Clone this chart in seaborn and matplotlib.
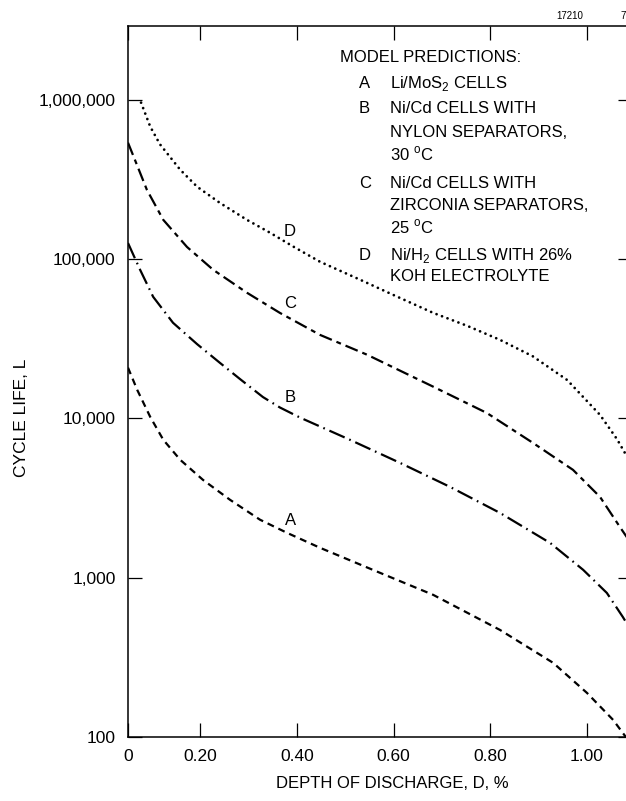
import numpy as np
import pandas as pd
import matplotlib
matplotlib.use("Agg")
import matplotlib.pyplot as plt
import seaborn as sns

# ==============================
# DATA
# ==============================

# drawn origin of the depth axis sits slightly right of D = 0
X_LEFT = 0.051
X_RIGHT = 1.093

# curve D: Ni/H2 cells
depth_d = [0.078, 0.097, 0.117, 0.159, 0.194, 0.241, 0.297, 0.345, 0.392, 0.448,
           0.531, 0.599, 0.682, 0.752, 0.820, 0.888, 0.959, 1.027, 1.062, 1.083]
life_d = [958000, 677000, 525000, 363000, 284000, 225000, 176000, 146000, 120000, 96100,
          74100, 59600, 45900, 38100, 31100, 24500, 17400, 10500, 7400, 5730]

# curve C: Ni/Cd, zirconia separators
depth_c = [0.051, 0.062, 0.090, 0.124, 0.173, 0.227, 0.297, 0.365, 0.448, 0.545,
           0.682, 0.793, 0.888, 0.971, 1.027, 1.068, 1.093]
life_c = [537000, 444000, 272000, 176000, 119000, 85600, 61400, 45900, 33400, 25100,
          15800, 10800, 7020, 4750, 3210, 2080, 1610]

# curve B: Ni/Cd, nylon separators
depth_b = [0.051, 0.076, 0.103, 0.144, 0.194, 0.241, 0.283, 0.330, 0.365, 0.407,
           0.510, 0.613, 0.717, 0.820, 0.924, 0.992, 1.041, 1.074, 1.093]
life_b = [126000, 85600, 57900, 39800, 29200, 22300, 17600, 13600, 11700, 10100,
          7330, 5260, 3710, 2550, 1650, 1120, 802, 567, 456]

# curve A: Li/MoS2
depth_a = [0.051, 0.070, 0.097, 0.124, 0.159, 0.206, 0.262, 0.324, 0.380, 0.448,
           0.551, 0.682, 0.820, 0.930, 1.000, 1.054, 1.074, 1.093]
life_a = [20800, 15100, 10200, 7330, 5490, 4110, 3080, 2310, 1910, 1540,
          1140, 780, 470, 292, 189, 128, 106, 89]

x_ticks = [X_LEFT, 0.2, 0.4, 0.6, 0.8, 1.0]
x_tick_labels = ["0", "0.20", "0.40", "0.60", "0.80", "1.00"]
y_ticks = [100, 1000, 10000, 100000, 1000000]
y_tick_labels = ["100", "1,000", "10,000", "100,000", "1,000,000"]

curve_names = ["A", "B", "C", "D"]
label_depth = 0.386
label_life = [2270, 13500, 52400, 148000]

legend_title = "MODEL PREDICTIONS:"
legend_keys = ["A", "B", "", "", "C", "", "", "D", ""]
legend_lines = [
    r"Li/MoS$_{\mathregular{2}}$ CELLS",
    "Ni/Cd CELLS WITH",
    "NYLON SEPARATORS,",
    r"30 $^{\mathregular{o}}$C",
    "Ni/Cd CELLS WITH",
    "ZIRCONIA SEPARATORS,",
    r"25 $^{\mathregular{o}}$C",
    r"Ni/H$_{\mathregular{2}}$ CELLS WITH 26%",
    "KOH ELECTROLYTE",
]

# ==============================
# STYLE
# ==============================

W, H = 626, 801
sns.set_theme(style="ticks")
plt.rcParams["font.family"] = ["Liberation Sans", "DejaVu Sans"]
plt.rcParams["text.color"] = "black"
plt.rcParams["axes.labelcolor"] = "black"
plt.rcParams["xtick.color"] = "black"
plt.rcParams["ytick.color"] = "black"
plt.rcParams["lines.scale_dashes"] = False

fig = plt.figure(figsize=(W / 100, H / 100), dpi=100)
fig.patch.set_facecolor("white")
ax = fig.add_axes([128 / W, 64 / H, 504 / W, 711 / H])

LW = 1.6
sns.lineplot(x=depth_a, y=life_a, ax=ax, color="black", linewidth=LW,
             linestyle=(0, (5, 3.6)), errorbar=None)
sns.lineplot(x=depth_b, y=life_b, ax=ax, color="black", linewidth=LW,
             linestyle=(0, (12, 3.6, 1.2, 3.6)), errorbar=None)
sns.lineplot(x=depth_c, y=life_c, ax=ax, color="black", linewidth=LW,
             linestyle=(0, (9.5, 3.6, 3.5, 3.6)), errorbar=None)
sns.lineplot(x=depth_d, y=life_d, ax=ax, color="black", linewidth=2.0,
             linestyle=(0, (0.01, 4.2)), dash_capstyle="round", errorbar=None)

for name, life in zip(curve_names, label_life):
    ax.text(label_depth, life, name, fontsize=12, ha="center", va="center")

ax.set_yscale("log")
ax.set_xlim(X_LEFT, X_RIGHT)
ax.set_ylim(100, 2.9e6)
ax.set_xticks(x_ticks)
ax.set_xticklabels(x_tick_labels)
ax.set_yticks(y_ticks)
ax.set_yticklabels(y_tick_labels)
ax.minorticks_off()
ax.tick_params(direction="in", length=10, width=0.9, top=True, right=True,
               labelsize=12.5)
ax.tick_params(axis="x", pad=8.5)
ax.tick_params(axis="y", pad=9)
for side in ax.spines.values():
    side.set_linewidth(1.1)
    side.set_color("black")

ax.set_xlabel("DEPTH OF DISCHARGE, D, %", fontsize=12)
ax.set_ylabel("CYCLE LIFE, L", fontsize=12.5)
ax.xaxis.set_label_coords((392 - 128) / 504, (737 - 776) / 711)
ax.yaxis.label.set_verticalalignment("center")
ax.yaxis.set_label_coords((22 - 128) / 504, (737 - 418) / 711)

# ==============================
# LEGEND BLOCK (plain text as in the scan)
# ==============================

fig.text(340 / W, 1 - 62 / H, legend_title, fontsize=12, va="baseline")
baselines = [88, 113, 137, 160, 188, 210, 233, 260, 281]
for key, line, yb in zip(legend_keys, legend_lines, baselines):
    if key:
        fig.text(359 / W, 1 - yb / H, key, fontsize=12, va="baseline")
    fig.text(390 / W, 1 - yb / H, line, fontsize=12, va="baseline")

fig.text(556 / W, 1 - 19 / H, "17210", fontsize=7, va="baseline")
fig.text(620 / W, 1 - 19 / H, "7", fontsize=7, va="baseline")

fig.savefig("out.png", dpi=100, facecolor="white")
